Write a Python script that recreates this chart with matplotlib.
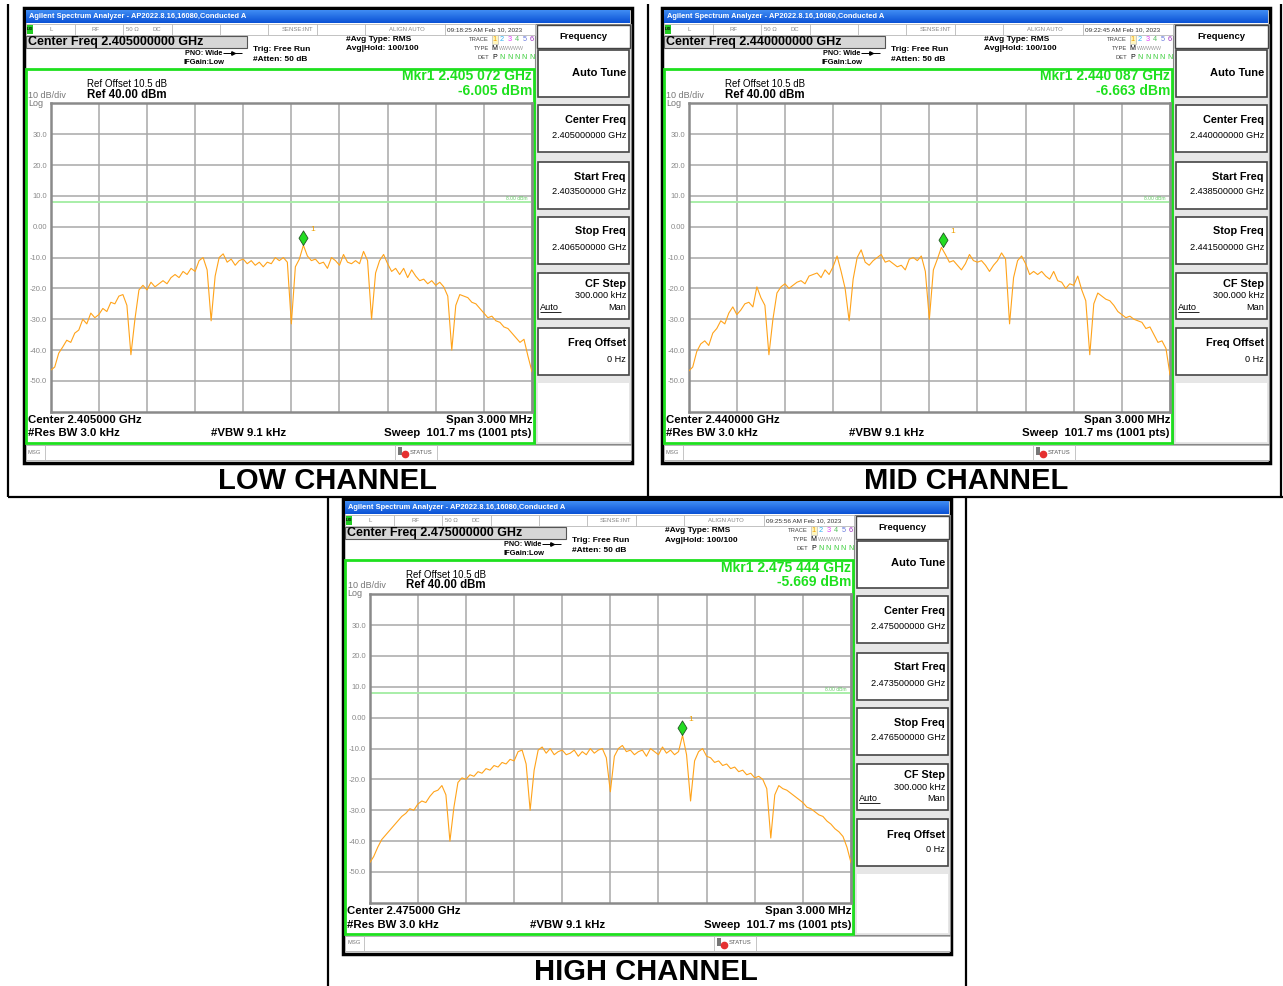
import numpy as np
import matplotlib.pyplot as plt
from matplotlib.patches import Rectangle
from matplotlib.colors import LinearSegmentedColormap

plt.rcParams['font.family'] = ['Liberation Sans', 'DejaVu Sans']

# trace levels (dBm), 121 points across the 3 MHz span, centre +/- 1.5 MHz
low_levels = [-46.5, -45.5, -41.0, -39.0, -36.8, -37.5, -34.5, -33.5, -30.0, -31.5,
              -28.0, -29.5, -28.5, -26.5, -27.5, -24.5, -25.0, -22.5, -22.0, -25.5,
              -41.5, -30.0, -20.5, -19.0, -20.5, -18.0, -19.5, -18.5, -17.5, -18.5,
              -16.5, -15.5, -16.5, -14.5, -15.5, -13.5, -14.5, -11.0, -10.0, -14.0,
              -30.5, -16.0, -10.0, -8.8, -11.5, -10.5, -12.5, -11.0, -10.5, -12.0,
              -11.0, -12.5, -11.5, -13.0, -11.5, -12.0, -10.0, -11.0, -10.0, -11.5,
              -31.5, -13.0, -10.5, -6.0, -9.5, -11.0, -10.5, -12.0, -11.5, -13.5,
              -10.0, -11.0, -12.5, -9.0, -11.5, -12.0, -11.0, -12.0, -8.0, -11.0,
              -30.0, -15.0, -11.0, -9.0, -12.0, -14.5, -13.5, -15.5, -13.5, -16.5,
              -14.0, -16.0, -17.5, -17.0, -18.5, -17.5, -19.0, -18.0, -19.5, -22.5,
              -40.0, -25.5, -22.0, -22.5, -23.0, -24.5, -25.0, -26.5, -28.0, -29.5,
              -29.0, -30.5, -31.0, -32.5, -33.0, -34.5, -36.0, -37.5, -36.5, -42.0, -47.0]

mid_levels = [-46.8, -45.5, -40.5, -38.0, -37.0, -38.5, -34.5, -33.0, -30.5, -31.5,
              -28.0, -26.0, -28.5, -27.0, -25.0, -24.5, -26.0, -19.5, -23.0, -25.5,
              -41.5, -30.0, -21.5, -19.5, -18.5, -20.0, -19.0, -18.0, -17.5, -18.5,
              -16.0, -15.5, -15.0, -16.5, -14.0, -15.5, -13.0, -9.5, -14.5, -20.0,
              -30.5, -17.0, -10.0, -7.5, -11.5, -12.5, -11.0, -10.0, -9.0, -11.5,
              -11.0, -12.0, -13.0, -12.5, -14.0, -10.5, -10.0, -11.0, -9.5, -14.5,
              -30.0, -14.0, -10.5, -6.7, -9.0, -11.5, -11.0, -12.5, -14.0, -12.0,
              -9.0, -11.0, -11.5, -11.0, -12.5, -14.5, -12.5, -11.0, -8.5, -10.5,
              -31.5, -16.5, -11.0, -9.5, -12.0, -15.5, -14.5, -15.5, -14.5, -16.0,
              -17.0, -14.5, -17.5, -18.0, -20.0, -18.5, -19.0, -16.0, -20.5, -24.0,
              -41.5, -25.0, -21.5, -22.5, -23.5, -24.0, -25.5, -27.5, -28.5, -29.5,
              -29.0, -30.0, -30.5, -31.0, -33.0, -32.5, -35.0, -37.5, -37.0, -39.5, -48.0]

high_levels = [-47.0, -45.0, -42.0, -39.5, -38.0, -36.5, -35.0, -33.5, -32.0, -31.0,
               -29.5, -30.0, -28.0, -27.0, -27.5, -25.5, -24.0, -23.5, -22.0, -25.0,
               -40.0, -29.0, -21.0, -19.5, -20.0, -18.5, -19.0, -17.5, -18.0, -16.5,
               -17.0, -15.5, -16.0, -14.5, -15.0, -13.5, -14.0, -11.0, -10.5, -15.0,
               -30.0, -17.0, -10.5, -9.5, -11.5, -10.0, -12.0, -11.0, -10.5, -12.0,
               -11.5, -10.5, -12.5, -11.0, -12.0, -10.0, -11.5, -10.5, -10.0, -13.0,
               -24.0, -12.5, -10.0, -9.0, -11.0, -10.5, -12.0, -11.0, -10.5, -12.5,
               -10.0, -11.0, -12.0, -9.5, -11.5, -10.5, -12.0, -11.0, -5.7, -12.0,
               -27.0, -14.0, -11.0, -10.0, -12.5, -13.0, -14.5, -14.0, -15.5, -15.0,
               -16.5, -16.0, -17.5, -17.0, -18.5, -18.0, -19.5, -19.0, -20.0, -23.0,
               -39.0, -25.0, -22.0, -23.0, -23.5, -24.5, -25.5, -26.5, -27.5, -29.0,
               -29.5, -30.5, -31.5, -32.0, -33.5, -34.5, -36.0, -37.0, -38.5, -42.0, -47.0]

channels = ['LOW CHANNEL', 'MID CHANNEL', 'HIGH CHANNEL']
center_ghz = [2.405, 2.440, 2.475]
timestamps = ['09:18:25 AM Feb 10, 2023', '09:22:45 AM Feb 10, 2023', '09:25:56 AM Feb 10, 2023']
marker_ghz = [2.405072, 2.440087, 2.475444]
marker_dbm = [-6.005, -6.663, -5.669]
traces = [low_levels, mid_levels, high_levels]

span_mhz = 3.0
ref_level = 40.0
display_line = 8.0

W, H = 1283, 986
fig = plt.figure(figsize=(W / 100, H / 100), dpi=100)
bg = fig.add_axes([0, 0, 1, 1])
bg.set_xlim(0, W)
bg.set_ylim(H, 0)
bg.axis('off')


def rect(x0, y0, x1, y1, fc='none', ec='none', lw=1.0, z=2):
    bg.add_patch(Rectangle((x0, y0), x1 - x0, y1 - y0, fc=fc, ec=ec, lw=lw, zorder=z))


def line(xs, ys, color='black', lw=1.0, z=3):
    bg.plot(xs, ys, color=color, lw=lw, zorder=z, solid_capstyle='butt')


def txt(x, y, s, size=7, weight='normal', color='black', ha='left', **kw):
    bg.text(x, y, s, fontsize=size, fontweight=weight, color=color, ha=ha, va='center',
            zorder=5, **kw)


green = '#1ee01e'
grad = np.linspace(0, 1, 20)[:, None] * np.ones((1, 2))
title_cmap = LinearSegmentedColormap.from_list('tb', ['#3f8cf3', '#0b52d6'])


def screen(dx, dy, cf, stamp, mk_f, mk_db, levels):
    X = lambda x: x + dx
    Y = lambda y: y + dy

    rect(X(24), Y(8), X(632), Y(463), fc='white', ec='black', lw=2.5, z=1)
    # title bar
    bg.imshow(grad, extent=(X(26), X(630), Y(23), Y(10)), aspect='auto', cmap=title_cmap, zorder=2)
    txt(X(29), Y(16.5), 'Agilent Spectrum Analyzer - AP2022.8.16,16080,Conducted A',
        size=5.4, weight='bold', color='white')

    # status row
    rect(X(26), Y(24), X(535), Y(34.5), fc='white', ec='#b8b8b8', lw=0.6)
    for xc in [75, 123, 172, 220, 268, 317, 365, 445]:
        line([X(xc), X(xc)], [Y(24), Y(34.5)], color='#b8b8b8', lw=0.6)
    rect(X(26.5), Y(25), X(33), Y(33.5), fc='#22cc22', ec='none', z=3)
    txt(X(27), Y(29.3), 'LXI', size=3, weight='bold')
    for xs, s in [(51, 'L'), (96, 'RF'), (132, '50 Ω'), (157, 'DC'), (297, 'SENSE:INT'),
                  (407, 'ALIGN AUTO')]:
        txt(X(xs), Y(29.5), s, size=4.3, color='#888', ha='center')
    txt(X(447), Y(29.5), stamp, size=4.6, color='#333')

    # centre frequency banner
    rect(X(26), Y(35.5), X(247), Y(48), fc='#d6d6d6', ec='#555', lw=0.8)
    txt(X(28), Y(42), f'Center Freq {cf:.9f} GHz', size=9, weight='bold')
    txt(X(185), Y(53.3), 'PNO: Wide', size=5.2, weight='bold')
    line([X(223), X(242)], [Y(53.3), Y(53.3)], lw=0.7)
    bg.plot([X(232.5)], [Y(53.3)], marker='>', ms=2.5, color='black', zorder=4)
    txt(X(184), Y(62.3), 'IFGain:Low', size=5.4, weight='bold')
    txt(X(253), Y(49.3), 'Trig: Free Run', size=6, weight='bold')
    txt(X(253), Y(59.5), '#Atten: 50 dB', size=6, weight='bold')
    txt(X(346), Y(39.5), '#Avg Type: RMS', size=6, weight='bold')
    txt(X(346), Y(49), 'Avg|Hold: 100/100', size=6, weight='bold')

    # trace / type / detector block
    txt(X(489), Y(39.5), 'TRACE', size=4.2, color='#444', ha='right')
    txt(X(489), Y(48.5), 'TYPE', size=4.2, color='#444', ha='right')
    txt(X(489), Y(57.5), 'DET', size=4.2, color='#444', ha='right')
    rect(X(491.5), Y(35), X(498), Y(44), fc='#fff7c0', ec='#bbb', lw=0.5)
    for k, c in enumerate(['#f0a000', '#2fb3f5', '#e040fb', '#55c060', '#6677dd', '#9a30c0']):
        txt(X(494.7 + 7.4 * k), Y(39.5), str(k + 1), size=5.3, color=c, ha='center')
    txt(X(494.7), Y(48.5), 'M', size=5, ha='center')
    txt(X(499), Y(48.5), 'WWWWW', size=3.8, color='#999')
    txt(X(494.7), Y(57.5), 'P', size=5, ha='center')
    for k in range(1, 6):
        txt(X(494.7 + 7.4 * k), Y(57.5), 'N', size=5, color='#33cc33', ha='center')

    # softkey panel
    rect(X(535), Y(24), X(630.5), Y(444), fc='#e6e6e6', ec='#888', lw=0.8, z=1.5)
    rect(X(536.5), Y(25), X(629.5), Y(48), fc='white', ec='#444', lw=1.0)
    txt(X(583), Y(36.5), 'Frequency', size=6.8, weight='bold', ha='center')
    rect(X(538), Y(49.5), X(628.5), Y(96.5), fc='white', ec='#444', lw=1.2)
    txt(X(626), Y(72.5), 'Auto Tune', size=8, weight='bold', ha='right')
    keys = [(105, 'Center Freq', f'{cf:.9f} GHz'),
            (161.5, 'Start Freq', f'{cf - span_mhz / 2000:.9f} GHz'),
            (216.5, 'Stop Freq', f'{cf + span_mhz / 2000:.9f} GHz')]
    for top, name, val in keys:
        rect(X(538), Y(top), X(628.5), Y(top + 47), fc='white', ec='#444', lw=1.2)
        txt(X(626), Y(top + 15), name, size=7.8, weight='bold', ha='right')
        txt(X(626), Y(top + 30.5), val, size=6.6, ha='right')
    rect(X(538), Y(272.5), X(628.5), Y(319), fc='white', ec='#444', lw=1.2)
    txt(X(626), Y(284), 'CF Step', size=7.8, weight='bold', ha='right')
    txt(X(626), Y(296), '300.000 kHz', size=6.6, ha='right')
    txt(X(540), Y(307.5), 'Auto', size=6.6)
    line([X(540), X(561)], [Y(312), Y(312)], lw=0.6)
    txt(X(626), Y(307.5), 'Man', size=6.6, ha='right')
    rect(X(538), Y(328), X(628.5), Y(375), fc='white', ec='#444', lw=1.2)
    txt(X(626), Y(343.5), 'Freq Offset', size=7.8, weight='bold', ha='right')
    txt(X(626), Y(359), '0 Hz', size=6.6, ha='right')
    rect(X(538), Y(383), X(628.5), Y(442), fc='white', ec='none', lw=0)

    # measurement area
    rect(X(26), Y(69), X(533.5), Y(443), fc='none', ec=green, lw=2, z=4)
    s = f'{mk_f:.6f}'
    txt(X(532), Y(76.5), f'Mkr1 {s[:5]} {s[5:]} GHz', size=10, weight='bold', color=green, ha='right')
    txt(X(532), Y(91), f'{mk_db:.3f} dBm', size=10, weight='bold', color=green, ha='right')
    txt(X(87), Y(84.3), 'Ref Offset 10.5 dB', size=7)
    txt(X(87), Y(94.5), f'Ref {ref_level:.2f} dBm', size=8.3, weight='bold')
    txt(X(28.5), Y(95), '10 dB/div', size=6.5, color='#777')
    txt(X(28.5), Y(103), 'Log', size=6.5, color='#777')

    txt(X(28), Y(420), f'Center {cf:.6f} GHz', size=8.2, weight='bold')
    txt(X(28), Y(433.5), '#Res BW 3.0 kHz', size=8.2, weight='bold')
    txt(X(211), Y(433.5), '#VBW 9.1 kHz', size=8.2, weight='bold')
    txt(X(532), Y(420), f'Span {span_mhz:.3f} MHz', size=8.2, weight='bold', ha='right')
    txt(X(532), Y(433.5), 'Sweep  101.7 ms (1001 pts)', size=8.2, weight='bold', ha='right')

    # message / status bar
    rect(X(26), Y(444.5), X(630.5), Y(460), fc='white', ec='#aaa', lw=0.6)
    for xc in [45, 395, 437]:
        line([X(xc), X(xc)], [Y(444.5), Y(460)], color='#bbb', lw=0.6)
    txt(X(28), Y(452), 'MSG', size=4.2, color='#777')
    rect(X(398), Y(447), X(402), Y(455), fc='#777', ec='none', z=3)
    bg.plot([X(405)], [Y(454)], 'o', ms=4.5, color='#e53030', zorder=4)
    txt(X(410), Y(452), 'STATUS', size=4.2, color='#555')

    # spectrum plot
    x0, x1, y0, y1 = X(50.7), X(532), Y(103.3), Y(411.8)
    ax = fig.add_axes([x0 / W, 1 - y1 / H, (x1 - x0) / W, (y1 - y0) / H])
    ax.set_xlim(-span_mhz / 2, span_mhz / 2)
    ax.set_ylim(ref_level - 100, ref_level)
    ax.set_xticks(np.linspace(-span_mhz / 2, span_mhz / 2, 11))
    ax.set_xticklabels([])
    yt = np.arange(-50, 40, 10)
    ax.set_yticks(yt)
    ax.set_yticklabels(['0.00' if v == 0 else f'{v:.1f}' for v in yt], fontsize=5.5, color='#8a8a8a')
    ax.tick_params(length=0, pad=2.5)
    ax.grid(True, color='#a8a8a8', lw=1.1)
    ax.set_axisbelow(True)
    for sp in ax.spines.values():
        sp.set_color('#8a8a8a')
        sp.set_linewidth(1.8)
    ax.axhline(display_line, color='#a8eea8', lw=1.4, zorder=2)
    ax.text(1.47, display_line + 1.3, f'{display_line:.2f} dBm', fontsize=3.6, color='#66cc66',
            ha='right', va='center')
    freqs = np.linspace(-span_mhz / 2, span_mhz / 2, len(levels))
    ax.plot(freqs, levels, color='#ffa31a', lw=0.8, zorder=3)
    # marker diamond sits on top of the marked point
    mx = (mk_f - cf) * 1000
    dia = [(0, 0), (-0.62, 1), (0, 2), (0.62, 1), (0, 0)]
    ax.plot([mx], [mk_db], marker=dia, ms=21, mfc='#22dd22', mec='#225522', mew=0.6, zorder=4)
    ax.annotate('1', (mx, mk_db), xytext=(5, 11), textcoords='offset points', fontsize=6,
                color='#f0a000', ha='left', va='center')


offsets = [(0, 0), (638, 0), (319, 491)]
label_pos = [(328, 481), (966, 481), (646, 972)]
for i in range(3):
    screen(offsets[i][0], offsets[i][1], center_ghz[i], timestamps[i], marker_ghz[i],
           marker_dbm[i], traces[i])
    bg.text(label_pos[i][0], label_pos[i][1], channels[i], fontsize=21, fontweight='bold',
            ha='center', va='center', zorder=5)

# table rules around the three captures
line([8, 8], [4, 497], lw=1.6)
line([648, 648], [4, 497], lw=1.6)
line([1281, 1281], [4, 497], lw=1.6)
line([8, 1283], [497, 497], lw=1.6)
line([328, 328], [497, 986], lw=1.6)
line([966, 966], [497, 986], lw=1.6)

fig.savefig('out.png', dpi=100)
